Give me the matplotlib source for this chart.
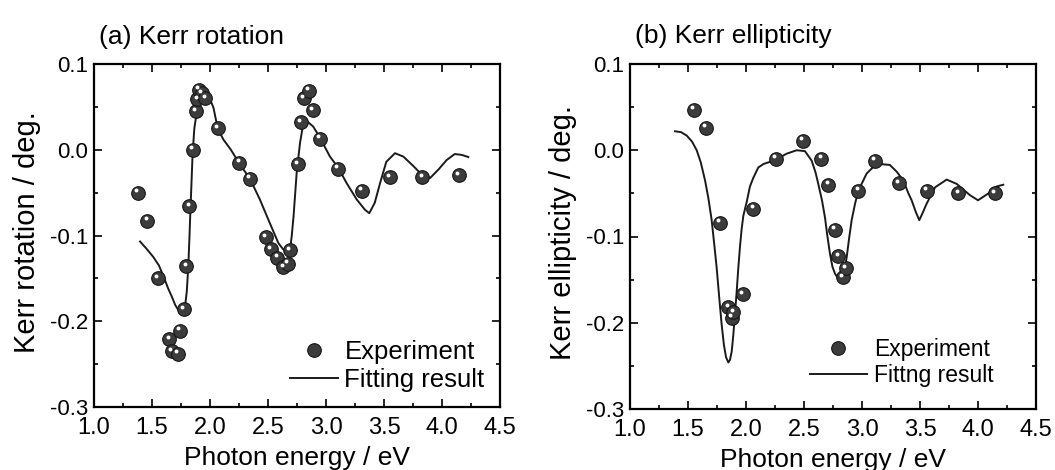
import matplotlib
matplotlib.use('Agg')
import matplotlib.pyplot as plt
from matplotlib.transforms import ScaledTranslation
from matplotlib.lines import Line2D

# (a) Kerr rotation, measured points
rot_exp_x = [1.377, 1.46, 1.548, 1.649, 1.67, 1.72, 1.741, 1.773, 1.797, 1.822,
             1.85, 1.88, 1.89, 1.905, 1.93, 1.96, 2.066, 2.253, 2.345, 2.48,
             2.526, 2.58, 2.632, 2.67, 2.69, 2.756, 2.785, 2.81, 2.853, 2.885,
             2.948, 3.10, 3.31, 3.55, 3.83, 4.147]
rot_exp_y = [-0.050, -0.083, -0.150, -0.221, -0.235, -0.238, -0.211, -0.186, -0.136, -0.066,
             0.000, 0.045, 0.059, 0.070, 0.066, 0.060, 0.025, -0.015, -0.034, -0.102,
             -0.116, -0.126, -0.137, -0.133, -0.117, -0.017, 0.032, 0.060, 0.069, 0.046,
             0.013, -0.022, -0.048, -0.032, -0.032, -0.030]

# (a) fitting result
rot_fit_x = [1.397, 1.45, 1.511, 1.56, 1.60, 1.64, 1.67, 1.70, 1.727, 1.75,
             1.77, 1.785, 1.80, 1.813, 1.822, 1.83, 1.84, 1.85, 1.865, 1.885,
             1.914, 1.957, 2.0, 2.03, 2.066, 2.115, 2.18, 2.253, 2.345, 2.43,
             2.517, 2.59, 2.63, 2.66, 2.69, 2.705, 2.72, 2.735, 2.747, 2.776,
             2.80, 2.847, 2.89, 2.948, 3.034, 3.106, 3.178, 3.265, 3.336, 3.373,
             3.42, 3.466, 3.52, 3.595, 3.667, 3.753, 3.84, 3.897, 3.97, 4.04,
             4.11, 4.17, 4.227]
rot_fit_y = [-0.107, -0.115, -0.125, -0.135, -0.148, -0.162, -0.171, -0.181, -0.187, -0.190,
             -0.190, -0.183, -0.165, -0.136, -0.105, -0.075, -0.040, -0.005, 0.025, 0.043,
             0.056, 0.062, 0.059, 0.049, 0.025, 0.012, 0.000, -0.016, -0.034, -0.058,
             -0.086, -0.109, -0.116, -0.119, -0.117, -0.100, -0.078, -0.050, -0.027, 0.008,
             0.027, 0.032, 0.027, 0.014, -0.008, -0.021, -0.039, -0.058, -0.070, -0.074,
             -0.062, -0.039, -0.014, -0.004, -0.008, -0.019, -0.031, -0.033, -0.023, -0.012,
             -0.005, -0.006, -0.0085]

# (b) Kerr ellipticity, measured points
ell_exp_x = [1.549, 1.655, 1.773, 1.849, 1.877, 1.89, 1.97, 2.063, 2.257, 2.489,
             2.65, 2.71, 2.767, 2.796, 2.833, 2.862, 2.968, 3.112, 3.316, 3.557,
             3.83, 4.147]
ell_exp_y = [0.047, 0.026, -0.084, -0.182, -0.194, -0.188, -0.167, -0.068, -0.010, 0.011,
             -0.010, -0.040, -0.092, -0.123, -0.147, -0.137, -0.047, -0.012, -0.038, -0.047,
             -0.050, -0.050]

# (b) fitting result
ell_fit_x = [1.388, 1.44, 1.489, 1.535, 1.575, 1.61, 1.647, 1.675, 1.704, 1.727,
             1.747, 1.77, 1.79, 1.81, 1.828, 1.848, 1.862, 1.877, 1.89, 1.905,
             1.92, 1.934, 1.948, 1.962, 1.977, 2.006, 2.034, 2.063, 2.106, 2.15,
             2.258, 2.35, 2.437, 2.508, 2.566, 2.60, 2.623, 2.655, 2.681, 2.70,
             2.724, 2.745, 2.767, 2.80, 2.825, 2.848, 2.868, 2.89, 2.911, 2.94,
             2.968, 3.04, 3.10, 3.155, 3.24, 3.30, 3.356, 3.40, 3.428, 3.465,
             3.494, 3.525, 3.557, 3.63, 3.73, 3.816, 3.93, 4.0, 4.09, 4.16,
             4.218]
ell_fit_y = [0.022, 0.021, 0.017, 0.010, 0.000, -0.014, -0.035, -0.055, -0.081, -0.110,
             -0.136, -0.172, -0.202, -0.226, -0.240, -0.246, -0.243, -0.233, -0.215, -0.190,
             -0.163, -0.136, -0.112, -0.092, -0.076, -0.060, -0.042, -0.032, -0.020, -0.016,
             -0.011, -0.004, 0.000, -0.001, -0.012, -0.026, -0.039, -0.058, -0.078, -0.098,
             -0.120, -0.135, -0.143, -0.150, -0.151, -0.140, -0.124, -0.101, -0.081, -0.062,
             -0.047, -0.027, -0.019, -0.016, -0.017, -0.025, -0.035, -0.050, -0.058, -0.072,
             -0.081, -0.072, -0.062, -0.043, -0.034, -0.039, -0.052, -0.058, -0.050, -0.042,
             -0.040]

x_ticks = [1.0, 1.5, 2.0, 2.5, 3.0, 3.5, 4.0, 4.5]
x_tick_labels = ['1.0', '1.5', '2.0', '2.5', '3.0', '3.5', '4.0', '4.5']
y_ticks = [0.1, 0.0, -0.1, -0.2, -0.3]
y_tick_labels = ['0.1', '0.0', '-0.1', '-0.2', '-0.3']

plt.rcParams['font.family'] = ['Liberation Sans', 'DejaVu Sans']

fig = plt.figure(figsize=(10.55, 4.70), dpi=100)
ax1 = fig.add_axes([94 / 1055, 63 / 470, 406 / 1055, 343 / 470])
ax2 = fig.add_axes([630 / 1055, 61 / 470, 406 / 1055, 345 / 470])

panels = [
    (ax1, rot_exp_x, rot_exp_y, rot_fit_x, rot_fit_y, '(a) Kerr rotation',
     'Kerr rotation / deg.', 'Fitting result', 18.5, (0.962, 0.045), 1.85, 0.15, 0.25),
    (ax2, ell_exp_x, ell_exp_y, ell_fit_x, ell_fit_y, '(b) Kerr ellipticity',
     'Kerr ellipticity / deg.', 'Fittng result', 16.5, (0.895, 0.065), 2.5, 0.12, 0.3),
]

for ax, ex, ey, fx, fy, title, ylab, fitlab, lfs, lpos, hlen, lsp, tpad in panels:
    ax.plot(fx, fy, color='#1a1a1a', lw=1.4, zorder=2)
    ax.plot(ex, ey, 'o', ms=9.8, mfc='#3c3c3c', mec='#151515', mew=0.8, zorder=3)
    # small white highlight on each sphere
    hl = ax.transData + ScaledTranslation(-1.2 / 72, 1.8 / 72, fig.dpi_scale_trans)
    ax.plot(ex, ey, 'o', ms=2.8, mfc='white', mec='none', transform=hl, zorder=4)

    ax.set_xlim(1.0, 4.5)
    ax.set_ylim(-0.3, 0.1)
    ax.set_xticks(x_ticks)
    ax.set_xticklabels(x_tick_labels, fontsize=17)
    ax.set_xticks([1.25, 1.75, 2.25, 2.75, 3.25, 3.75, 4.25], minor=True)
    ax.set_yticks(y_ticks)
    ax.set_yticklabels(y_tick_labels, fontsize=16)
    ax.set_yticks([0.05, -0.05, -0.15, -0.25], minor=True)
    ax.tick_params(which='both', direction='in', top=True, right=True, width=1.2)
    ax.tick_params(which='major', length=5.5)
    ax.tick_params(which='minor', length=3.2)
    ax.tick_params(axis='x', pad=7.5)
    ax.tick_params(axis='y', pad=4)
    for s in ax.spines.values():
        s.set_linewidth(1.6)

    ax.text(0.012, 1.08, title, transform=ax.transAxes, fontsize=19,
            ha='left', va='center')
    ax.text(-0.165, 0.51, ylab, transform=ax.transAxes, fontsize=21,
            rotation=90, ha='center', va='center')
    ax.text(0.5, -0.148, 'Photon energy / eV', transform=ax.transAxes,
            fontsize=19, ha='center', va='center')

    handles = [Line2D([], [], ls='none', marker='o', ms=9.8, mfc='#3c3c3c',
                      mec='#151515', mew=0.8),
               Line2D([], [], color='#1a1a1a', lw=1.4)]
    ax.legend(handles, ['Experiment', fitlab], loc='lower right', bbox_to_anchor=lpos,
              frameon=False, fontsize=lfs, handlelength=hlen, handletextpad=tpad,
              labelspacing=lsp, borderpad=0, borderaxespad=0)

fig.savefig('out.png', dpi=100)
